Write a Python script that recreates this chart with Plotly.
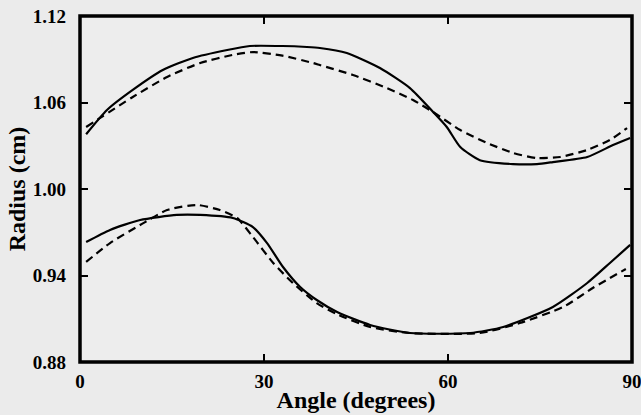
import plotly.graph_objects as go

# Upper pair of curves
upper_solid_x = [1, 4.4, 8.6, 13.5, 18.4, 24, 27.7, 33, 37, 39.1, 43.5, 48.9, 53.8, 57.6, 59.8, 62, 65.2, 70.6, 74.5, 77.1, 82.7, 86.9, 89.7]
upper_solid_y = [1.038, 1.0548, 1.0687, 1.0825, 1.0909, 1.0964, 1.0992, 1.0992, 1.0985, 1.0978, 1.0943, 1.0839, 1.070, 1.0533, 1.043, 1.0291, 1.020, 1.0173, 1.0173, 1.0187, 1.0222, 1.0305, 1.0354]

upper_dash_x = [1, 8.6, 14.2, 19.6, 24.9, 28.2, 33, 38, 39.1, 44.5, 50, 54.3, 57.6, 62, 66.4, 70.6, 74.5, 78.3, 82.7, 86.4, 89.2]
upper_dash_y = [1.043, 1.0638, 1.0777, 1.0874, 1.093, 1.095, 1.0925, 1.0874, 1.086, 1.0791, 1.070, 1.0617, 1.0533, 1.0409, 1.0319, 1.025, 1.0215, 1.0222, 1.0271, 1.034, 1.0423]

# Lower pair of curves
lower_solid_x = [1, 4.9, 9.8, 15.8, 19.6, 24.9, 28.2, 30.5, 33.1, 35.9, 38.6, 42, 47.3, 53.8, 63.6, 69, 77.1, 82.7, 86.4, 89.7]
lower_solid_y = [0.9632, 0.9716, 0.9785, 0.982, 0.982, 0.9799, 0.9736, 0.9625, 0.9459, 0.932, 0.923, 0.9145, 0.9057, 0.9001, 0.9001, 0.9043, 0.9182, 0.9348, 0.9487, 0.9612]

lower_dash_x = [1, 4.9, 9.8, 14.2, 19.1, 22.8, 25.6, 28.2, 31.5, 34.7, 38.6, 42, 47.3, 53.8, 65.2, 71.7, 78.8, 83.6, 89]
lower_dash_y = [0.9494, 0.9625, 0.975, 0.9854, 0.9889, 0.9854, 0.9799, 0.9667, 0.9487, 0.9348, 0.9209, 0.913, 0.9043, 0.9001, 0.9001, 0.907, 0.9182, 0.9313, 0.9445]

x_ticks = [0, 30, 60, 90]
y_ticks = [0.88, 0.94, 1.00, 1.06, 1.12]
y_tick_labels = ["0.88", "0.94", "1.00", "1.06", "1.12"]
x_range = [0, 90]
y_range = [0.88, 1.12]

fig = go.Figure()
solid = dict(color="black", width=2.2, shape="spline", smoothing=0.6)
dashed = dict(color="black", width=2.2, dash="8px,5px", shape="spline", smoothing=0.6)
fig.add_trace(go.Scatter(x=upper_solid_x, y=upper_solid_y, mode="lines", line=solid, hoverinfo="skip"))
fig.add_trace(go.Scatter(x=upper_dash_x, y=upper_dash_y, mode="lines", line=dashed, hoverinfo="skip"))
fig.add_trace(go.Scatter(x=lower_solid_x, y=lower_solid_y, mode="lines", line=solid, hoverinfo="skip"))
fig.add_trace(go.Scatter(x=lower_dash_x, y=lower_dash_y, mode="lines", line=dashed, hoverinfo="skip"))

font_b = dict(family="Liberation Serif", size=19, color="black", weight="bold")
title_f = dict(family="Liberation Serif", size=24, color="black", weight="bold")
bg = "#ebebeb"
tick_style = dict(ticks="inside", ticklen=8, tickwidth=2, tickcolor="black",
                  showline=False, showgrid=False, zeroline=False)
fig.update_layout(
    width=641, height=415,
    margin=dict(l=80, r=9, t=16, b=53),
    paper_bgcolor=bg, plot_bgcolor="#ededed",
    showlegend=False,
    font=font_b,
    shapes=[dict(type="rect", xref="paper", yref="paper", x0=0, x1=1, y0=0, y1=1,
                 line=dict(color="black", width=3.5), layer="above")],
    xaxis2=dict(overlaying="x", side="top", range=x_range, tickvals=x_ticks,
                showticklabels=False, **tick_style),
    yaxis2=dict(overlaying="y", side="right", range=y_range, tickvals=y_ticks,
                showticklabels=False, **tick_style),
)
fig.update_xaxes(
    range=x_range, tickvals=x_ticks, **tick_style,
    tickfont=font_b, ticklabeloverflow="allow", ticklabelstandoff=6,
    title=dict(text="Angle (degrees)", font=title_f, standoff=0),
    automargin=False, selector=dict(side="bottom"),
)
fig.update_layout(xaxis=dict(range=x_range, tickvals=x_ticks, **tick_style,
    tickfont=font_b, ticklabeloverflow="allow", ticklabelstandoff=6,
    title=dict(text="Angle (degrees)", font=title_f, standoff=0), automargin=False))
fig.update_layout(yaxis=dict(range=y_range, tickvals=y_ticks, ticktext=y_tick_labels, **tick_style,
    tickfont=font_b, ticklabeloverflow="allow", ticklabelstandoff=13,
    title=dict(text="Radius (cm)", font=title_f, standoff=0), automargin=False))
# invisible anchor trace so the overlay axes render
fig.add_trace(go.Scatter(x=x_range, y=y_range, xaxis="x2", yaxis="y2", mode="lines",
                         line=dict(width=0), opacity=0, hoverinfo="skip"))
fig.write_html("out.html", config={"displayModeBar": False},
               post_script="document.body.style.margin='0';document.body.style.overflow='hidden';")
